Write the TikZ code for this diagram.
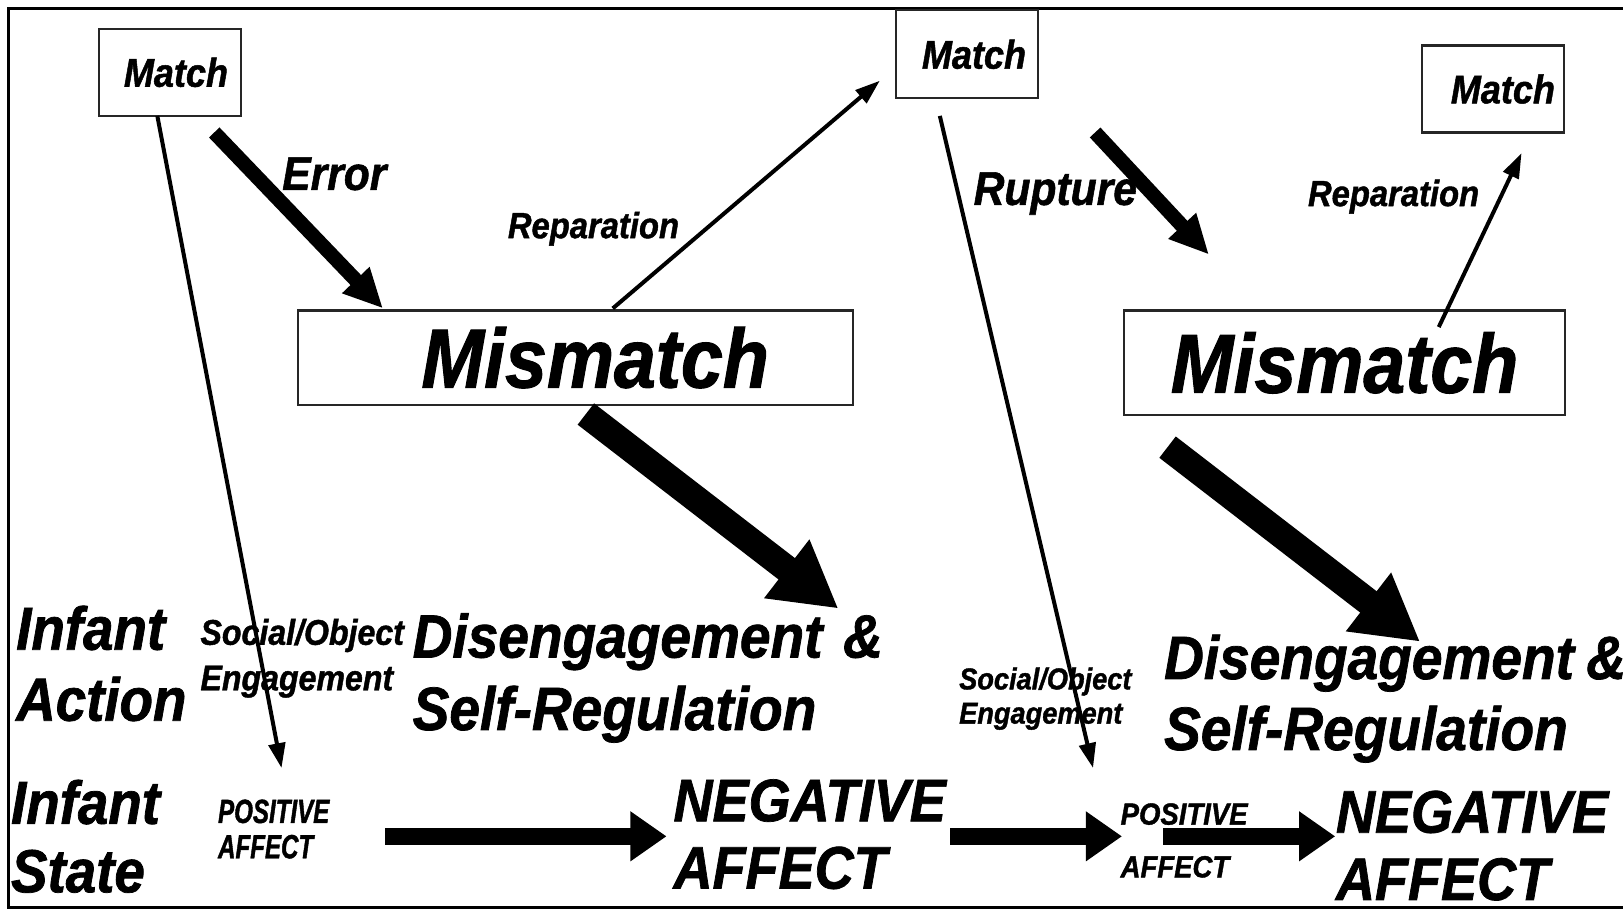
\documentclass[tikz,border=0pt]{standalone}
\usepackage{fontspec}
\setmainfont{Liberation Sans}[FakeStretch=0.9, BoldItalicFeatures={FakeBold=1.2}]
\newfontfamily\narrowsans{Liberation Sans}[FakeStretch=0.72, BoldItalicFeatures={FakeBold=1.2}]
\usetikzlibrary{arrows.meta,positioning}

\begin{document}
\begin{tikzpicture}[
  x=0.01cm, y=-0.01cm,
  fs/.style 2 args={font=\fontsize{#1}{#2}\selectfont\bfseries\itshape},
  box/.style={draw=black!85, line width=0.6pt, inner sep=0pt},
  lbl/.style={anchor=west, align=left, inner sep=0pt},
  fine/.style={-{Triangle[length=0.24cm,width=0.16cm]}, line width=1.1pt},
  fat/.style={-{Triangle[length=0.38cm,width=0.34cm]}, line width=0.14cm},
  bulk/.style={-{Triangle[length=0.63cm,width=0.67cm]}, line width=0.26cm},
  flat/.style={-{Triangle[length=0.35cm,width=0.46cm]}, line width=0.16cm}
]
  \useasboundingbox (0,0) rectangle (1568,880);
  \draw[line width=0.7pt] (1568,8) -- (8,8) -- (8,877) -- (1568,877);

  \node[box, minimum width=1.37cm, minimum height=0.84cm, fs={11pt}{13pt}] (match1) at (164.5,70) {\hspace*{0.11cm}Match};
  \node[box, minimum width=1.37cm, minimum height=0.85cm, fs={11pt}{13pt}] (match2) at (934.5,52.5) {\hspace*{0.13cm}Match};
  \node[box, minimum width=1.37cm, minimum height=0.84cm, fs={11pt}{13pt}] (match3) at (1442.5,86) {\hspace*{0.19cm}Match};
  \node[box, minimum width=5.36cm, minimum height=0.91cm, fs={23pt}{27pt}] (mis1) at (556,345.5) {\hspace*{0.38cm}Mismatch};
  \node[box, minimum width=4.26cm, minimum height=1.01cm, fs={23pt}{27pt}] (mis2) at (1299,350.5) {Mismatch};

  \node[lbl, fs={13pt}{15pt}] (err) at (272,168) {Error};
  \node[lbl, fs={10pt}{12pt}] (rep1) at (490,221) {Reparation};
  \node[lbl, fs={13pt}{15pt}] (rup) at (940,187) {Rupture};
  \node[lbl, fs={10pt}{12pt}] (rep2) at (1263,190) {Reparation};

  \node[lbl, fs={16.7pt}{19.5pt}] (act) at (15,641) {Infant\\Action};
  \node[lbl, fs={16.7pt}{18.8pt}] (state) at (10,808) {Infant\\State};
  \node[lbl, fs={9.8pt}{12.5pt}] (soc1) at (193,636) {Social/Object\\Engagement};
  \node[lbl, fs={16.8pt}{19.9pt}] (dis1) at (398,655) {Disengagement\hspace{0.2cm}\&\\Self-Regulation};
  \node[lbl, font=\fontsize{9.2pt}{9.7pt}\selectfont\narrowsans\bfseries\itshape] (pos1) at (210,801) {POSITIVE\\AFFECT};
  \node[lbl, fs={16.5pt}{18.5pt}] (neg1) at (650,806) {NEGATIVE\\AFFECT};
  \node[lbl, fs={8.3pt}{9.4pt}] (soc2) at (926,675) {Social/Object\\Engagement};
  \node[lbl, fs={16.8pt}{19.5pt}] (dis2) at (1124,675) {Disengagement\hspace{0.12cm}\&\\Self-Regulation};
  \node[lbl, fs={8.4pt}{14.5pt}] (pos2) at (1082,812) {POSITIVE\\AFFECT};
  \node[lbl, fs={16.5pt}{18.5pt}] (neg2) at (1290,817) {NEGATIVE\\AFFECT};

  \coordinate (e0) at (207,128);   \coordinate (e1) at (370,298);
  \coordinate (u0) at (1058,128);  \coordinate (u1) at (1168,246);
  \coordinate (r0) at (592,298);   \coordinate (r1) at (850,78);
  \coordinate (s0) at (1390,316);  \coordinate (s1) at (1470,148);
  \coordinate (l0) at (152,112);   \coordinate (l1) at (272,742);
  \coordinate (k0) at (908,112);   \coordinate (k1) at (1056,742);
  \coordinate (b0) at (566,400);   \coordinate (b1) at (810,588);
  \coordinate (c0) at (1128,432);  \coordinate (c1) at (1372,620);
  \coordinate (h0) at (372,808);   \coordinate (h1) at (644,808);
  \coordinate (h2) at (918,808);   \coordinate (h3) at (1084,808);
  \coordinate (h4) at (1124,808);  \coordinate (h5) at (1290,808);

  \foreach \a/\b in {e0/e1, u0/u1}
    \draw[fat] (\a) -- (\b);
  \foreach \a/\b in {r0/r1, s0/s1, l0/l1, k0/k1}
    \draw[fine] (\a) -- (\b);
  \foreach \a/\b in {b0/b1, c0/c1}
    \draw[bulk] (\a) -- (\b);
  \foreach \a/\b in {h0/h1, h2/h3, h4/h5}
    \draw[flat] (\a) -- (\b);
\end{tikzpicture}
\end{document}
